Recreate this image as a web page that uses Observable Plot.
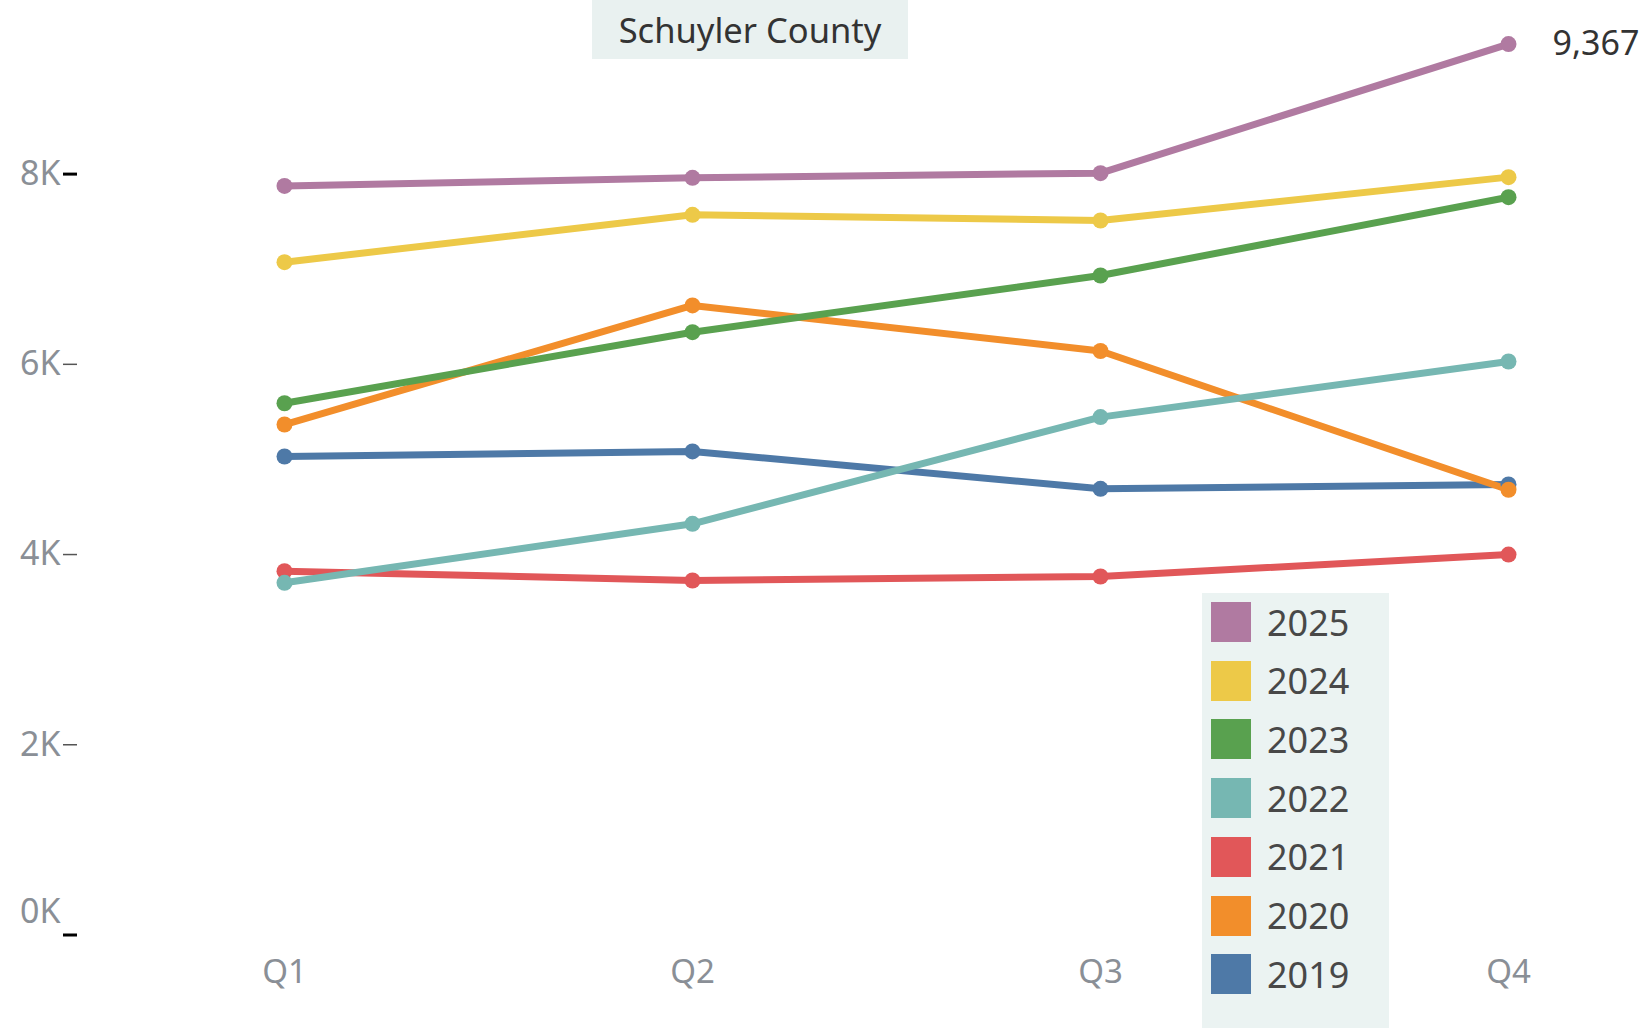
<!DOCTYPE html>
<html>
<head>
<meta charset="utf-8">
<script src="https://cdn.jsdelivr.net/npm/d3@7"></script>
<script src="https://cdn.jsdelivr.net/npm/@observablehq/plot@0.6"></script>
<style>
  html, body { margin: 0; padding: 0; background: #fff; }
  #wrap { position: relative; width: 1650px; height: 1028px; overflow: hidden; font-family: "Noto Sans", "Open Sans", sans-serif; }
  #title { position: absolute; left: 592px; top: 0px; width: 316px; height: 59px; background: #e9f1f0;
           display: flex; align-items: center; justify-content: center; font-size: 34.5px; color: #333; }
  #legend { position: absolute; left: 1202px; top: 593px; width: 187px; height: 435px; background: #ebf3f2; }
  .item { position: absolute; left: 9px; height: 40px; display: flex; align-items: center; }
  .sw { width: 40px; height: 40px; }
  .lab { margin-left: 16px; font-size: 36px; color: #484848; }
</style>
</head>
<body>
<div id="wrap">
  <div id="chart"></div>
  <div id="title">Schuyler County</div>
  <div id="legend"></div>
</div>
<script>
const quarters = ["Q1", "Q2", "Q3", "Q4"];
const years = ["2025", "2024", "2023", "2022", "2021", "2020", "2019"];
const colors = ["#b07aa1", "#edc948", "#59a14f", "#76b7b2", "#e15759", "#f28e2b", "#4e79a7"];
const v2025 = [7876, 7961, 8010, 9367];
const v2024 = [7074, 7572, 7512, 7968];
const v2023 = [5591, 6338, 6934, 7757];
const v2022 = [3703, 4323, 5445, 6030];
const v2021 = [3825, 3727, 3769, 4000];
const v2020 = [5367, 6619, 6140, 4681];
const v2019 = [5031, 5084, 4691, 4737];
const yTicks = [0, 2000, 4000, 6000, 8000];
const labelYear = "2025";
const labelQuarter = "Q4";

const seriesList = [v2025, v2024, v2023, v2022, v2021, v2020, v2019];
const data = [];
// draw oldest first so newer years sit on top
for (let i = years.length - 1; i >= 0; i--) {
  seriesList[i].forEach((v, j) => data.push({year: years[i], quarter: quarters[j], value: v}));
}
const kfmt = d => (d / 1000) + "K";

const chart = Plot.plot({
  width: 1650,
  height: 1028,
  marginLeft: 77,
  marginRight: 0,
  marginTop: 0,
  marginBottom: 90,
  style: {fontFamily: "Noto Sans, Open Sans, sans-serif", background: "transparent"},
  x: {type: "point", domain: quarters, range: [283, 1508], padding: 0},
  y: {domain: [0, 8000], range: [934.5, 173.6]},
  color: {domain: years, range: colors},
  marks: [
    Plot.axisX({tickSize: 0, tickPadding: 21, fontSize: 33, fill: "#8a8f96", label: null}),
    Plot.axisY({ticks: yTicks.filter(d => d > 0), tickSize: 14, tickPadding: 3, tickFormat: kfmt,
                fontSize: 34, fill: "#8a8f96", stroke: "#555", strokeWidth: 1.5, label: null}),
    Plot.axisY({ticks: [yTicks[0], yTicks[yTicks.length - 1]], tickSize: 14, tickFormat: () => "",
                stroke: "#000", strokeWidth: 3, label: null}),
    Plot.axisY({ticks: [yTicks[0]], tickSize: 0, tickPadding: 17, tickFormat: kfmt, dy: -23,
                fontSize: 34, fill: "#8a8f96", label: null}),
    Plot.line(data, {x: "quarter", y: "value", z: "year", stroke: "year", strokeWidth: 7}),
    Plot.dot(data, {x: "quarter", y: "value", fill: "year", r: 8}),
    Plot.text(data.filter(d => d.year === labelYear && d.quarter === labelQuarter), {
      x: "quarter", y: "value", text: d => d3.format(",")(d.value),
      dx: 44, textAnchor: "start", fontSize: 34, fill: "#333"
    })
  ]
});
document.getElementById("chart").appendChild(chart);

const legend = document.getElementById("legend");
years.forEach((y, i) => {
  const item = document.createElement("div");
  item.className = "item";
  item.style.top = (9 + i * 58.7) + "px";
  const sw = document.createElement("div");
  sw.className = "sw";
  sw.style.background = colors[i];
  const lab = document.createElement("div");
  lab.className = "lab";
  lab.textContent = y;
  item.appendChild(sw);
  item.appendChild(lab);
  legend.appendChild(item);
});
</script>
</body>
</html>
